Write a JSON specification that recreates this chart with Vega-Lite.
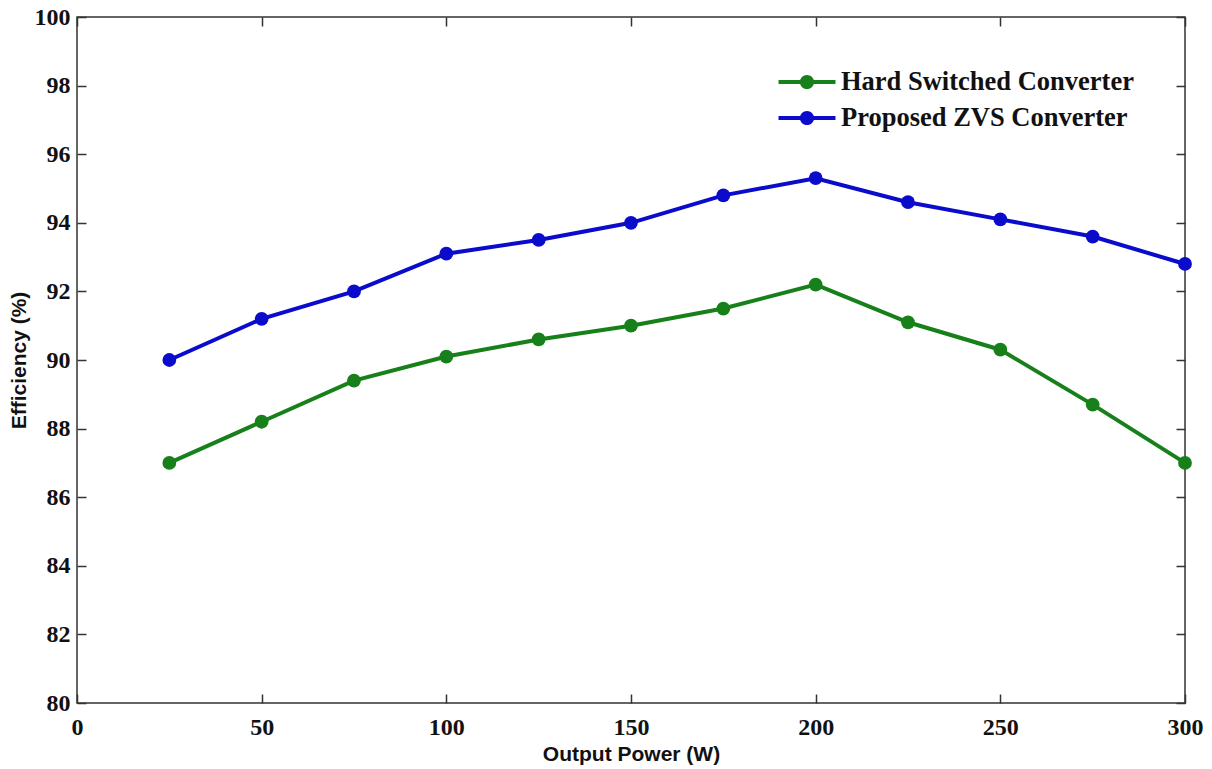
{
  "$schema": "https://vega.github.io/schema/vega-lite/v6.json",
  "width": 1108,
  "height": 686,
  "autosize": {"type": "none"},
  "padding": {"left": 77, "top": 17, "right": 27, "bottom": 66},
  "background": "white",
  "config": {
    "view": {"stroke": "#333333", "strokeWidth": 1.5},
    "axis": {
      "grid": false,
      "domain": false,
      "labelFlush": false,
      "tickSize": -9,
      "tickColor": "#333333",
      "tickWidth": 1.5,
      "labelFont": "Liberation Serif",
      "labelFontWeight": "bold",
      "labelFontSize": 24,
      "labelColor": "#111111",
      "titleFont": "Liberation Sans",
      "titleFontWeight": "bold",
      "titleFontSize": 21,
      "titleColor": "#111111"
    }
  },
  "data": {
    "values": [
      {"power": 25, "efficiency": 87.0, "series": "Hard Switched Converter"},
      {"power": 50, "efficiency": 88.2, "series": "Hard Switched Converter"},
      {"power": 75, "efficiency": 89.4, "series": "Hard Switched Converter"},
      {"power": 100, "efficiency": 90.1, "series": "Hard Switched Converter"},
      {"power": 125, "efficiency": 90.6, "series": "Hard Switched Converter"},
      {"power": 150, "efficiency": 91.0, "series": "Hard Switched Converter"},
      {"power": 175, "efficiency": 91.5, "series": "Hard Switched Converter"},
      {"power": 200, "efficiency": 92.2, "series": "Hard Switched Converter"},
      {"power": 225, "efficiency": 91.1, "series": "Hard Switched Converter"},
      {"power": 250, "efficiency": 90.3, "series": "Hard Switched Converter"},
      {"power": 275, "efficiency": 88.7, "series": "Hard Switched Converter"},
      {"power": 300, "efficiency": 87.0, "series": "Hard Switched Converter"},
      {"power": 25, "efficiency": 90.0, "series": "Proposed ZVS Converter"},
      {"power": 50, "efficiency": 91.2, "series": "Proposed ZVS Converter"},
      {"power": 75, "efficiency": 92.0, "series": "Proposed ZVS Converter"},
      {"power": 100, "efficiency": 93.1, "series": "Proposed ZVS Converter"},
      {"power": 125, "efficiency": 93.5, "series": "Proposed ZVS Converter"},
      {"power": 150, "efficiency": 94.0, "series": "Proposed ZVS Converter"},
      {"power": 175, "efficiency": 94.8, "series": "Proposed ZVS Converter"},
      {"power": 200, "efficiency": 95.3, "series": "Proposed ZVS Converter"},
      {"power": 225, "efficiency": 94.6, "series": "Proposed ZVS Converter"},
      {"power": 250, "efficiency": 94.1, "series": "Proposed ZVS Converter"},
      {"power": 275, "efficiency": 93.6, "series": "Proposed ZVS Converter"},
      {"power": 300, "efficiency": 92.8, "series": "Proposed ZVS Converter"}
    ]
  },
  "encoding": {
    "x": {
      "field": "power", "type": "quantitative",
      "scale": {"domain": [0, 300], "nice": false, "zero": false}
    },
    "y": {
      "field": "efficiency", "type": "quantitative",
      "scale": {"domain": [80, 100], "nice": false, "zero": false}
    }
  },
  "layer": [
    {
      "mark": {"type": "line", "strokeWidth": 4},
      "encoding": {
        "x": {
          "field": "power", "type": "quantitative",
          "axis": {"orient": "bottom", "values": [0, 50, 100, 150, 200, 250, 300], "title": "Output Power (W)", "labelPadding": 21, "labelFlush": false, "titleX": 554, "titleY": 57, "titleBaseline": "alphabetic"}
        },
        "y": {
          "field": "efficiency", "type": "quantitative",
          "axis": {"orient": "left", "values": [80, 82, 84, 86, 88, 90, 92, 94, 96, 98, 100], "title": "Efficiency (%)", "labelPadding": 16, "labelFlush": false, "titleX": -58, "titleY": 343, "titleAngle": -90, "titleBaseline": "middle", "titleAlign": "center"}
        },
        "color": {
          "field": "series", "type": "nominal",
          "scale": {"domain": ["Hard Switched Converter", "Proposed ZVS Converter"], "range": ["#17801a", "#0b0bcc"]},
          "legend": {
            "title": null,
            "orient": "none",
            "legendX": 712,
            "legendY": 47,
            "labelFont": "Liberation Serif",
            "labelFontWeight": "bold",
            "labelFontSize": 26.5,
            "labelColor": "#111111",
            "labelOffset": 16,
            "labelLimit": 500,
            "rowPadding": 4,
            "symbolType": "M-1.6,-0.112H1.6V0.112H-1.6Z M-0.4,0A0.4,0.4 0 1,1 0.4,0A0.4,0.4 0 1,1 -0.4,0Z",
            "symbolSize": 1267,
            "symbolStrokeWidth": 0,
            "symbolOpacity": 1
          }
        }
      }
    },
    {
      "mark": {"type": "point", "shape": "circle", "filled": true, "size": 190, "opacity": 1},
      "encoding": {
        "x": {"field": "power", "type": "quantitative", "axis": null},
        "y": {"field": "efficiency", "type": "quantitative", "axis": null},
        "color": {"field": "series", "type": "nominal", "legend": null}
      }
    },
    {
      "mark": {"type": "point", "opacity": 0},
      "encoding": {
        "x": {"field": "power", "type": "quantitative", "axis": {"orient": "top", "labels": false, "title": null, "values": [0, 50, 100, 150, 200, 250, 300]}},
        "y": {"field": "efficiency", "type": "quantitative", "axis": {"orient": "right", "labels": false, "title": null, "values": [80, 82, 84, 86, 88, 90, 92, 94, 96, 98, 100]}}
      }
    }
  ],
  "resolve": {"axis": {"x": "independent", "y": "independent"}}
}
